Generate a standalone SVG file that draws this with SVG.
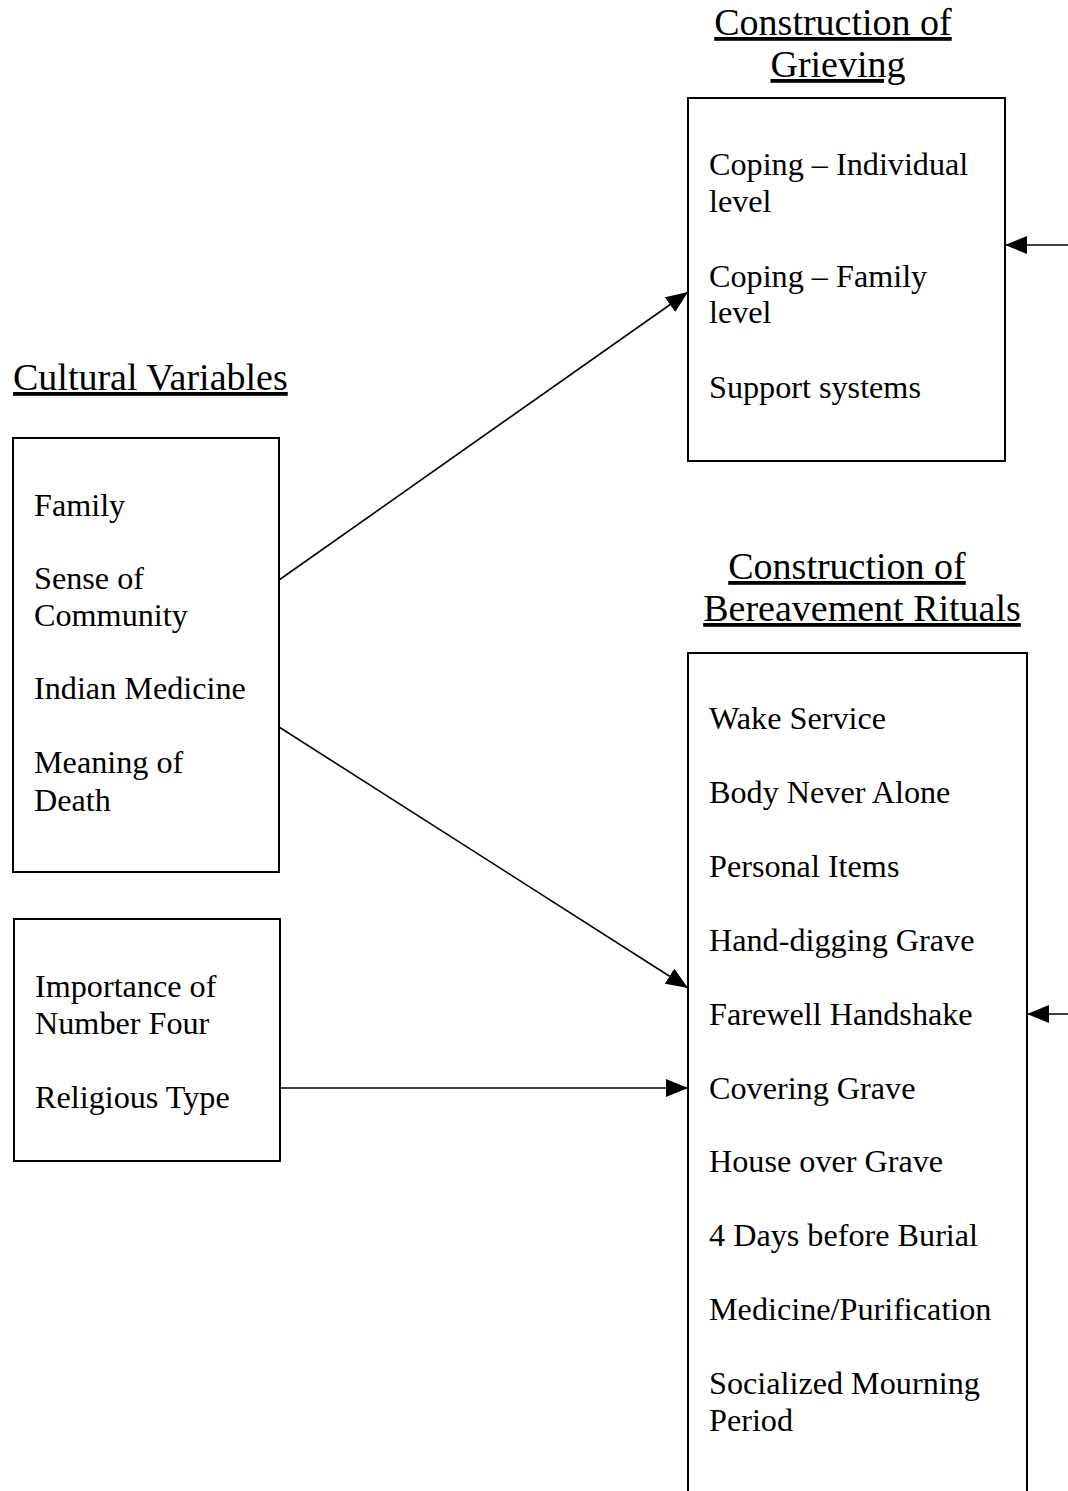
<svg xmlns="http://www.w3.org/2000/svg" width="1068" height="1491" viewBox="0 0 1068 1491">
<style>
text{font-family:"Liberation Serif","Times New Roman",serif;fill:#000}
.t{font-size:38px;text-decoration:underline}
.b{font-size:32.2px}
.box{fill:none;stroke:#000;stroke-width:2}
.c{stroke:#000;stroke-width:1.6;fill:none;marker-end:url(#ah)}
</style>
<defs>
<marker id="ah" viewBox="0 0 22 18" refX="22" refY="9" markerWidth="22" markerHeight="18" markerUnits="userSpaceOnUse" orient="auto">
<path d="M0,0 L22,9 L0,18 Z" fill="#000"/>
</marker>
</defs>
<rect width="1068" height="1491" fill="#fff"/>
<g id="title-grieving">
<text class="t" x="833" y="35" text-anchor="middle">Construction of</text>
<text class="t" x="838" y="77" text-anchor="middle">Grieving</text>
</g>
<g id="title-cultural">
<text class="t" x="13" y="390">Cultural Variables</text>
</g>
<g id="title-bereavement">
<text class="t" x="847" y="579" text-anchor="middle">Construction of</text>
<text class="t" x="862" y="621" text-anchor="middle">Bereavement Rituals</text>
</g>
<g id="grieving">
<rect class="box" x="688" y="98" width="317" height="363"/>
<text class="b" x="709" y="175">Coping – Individual</text>
<text class="b" x="709" y="212">level</text>
<text class="b" x="709" y="287">Coping – Family</text>
<text class="b" x="709" y="323">level</text>
<text class="b" x="709" y="398">Support systems</text>
</g>
<g id="cultural1">
<rect class="box" x="13" y="438" width="266" height="434"/>
<text class="b" x="34" y="516">Family</text>
<text class="b" x="34" y="589">Sense of</text>
<text class="b" x="34" y="626">Community</text>
<text class="b" x="34" y="699">Indian Medicine</text>
<text class="b" x="34" y="773">Meaning of</text>
<text class="b" x="34" y="811">Death</text>
</g>
<g id="cultural2">
<rect class="box" x="14" y="919" width="266" height="242"/>
<text class="b" x="35" y="997">Importance of</text>
<text class="b" x="35" y="1034">Number Four</text>
<text class="b" x="35" y="1108">Religious Type</text>
</g>
<g id="bereavement">
<path class="box" d="M688,1495 V653 H1027 V1495"/>
<text class="b" x="709" y="729">Wake Service</text>
<text class="b" x="709" y="803">Body Never Alone</text>
<text class="b" x="709" y="877">Personal Items</text>
<text class="b" x="709" y="951">Hand-digging Grave</text>
<text class="b" x="709" y="1025">Farewell Handshake</text>
<text class="b" x="709" y="1099">Covering Grave</text>
<text class="b" x="709" y="1172">House over Grave</text>
<text class="b" x="709" y="1246">4 Days before Burial</text>
<text class="b" x="709" y="1320">Medicine/Purification</text>
<text class="b" x="709" y="1394">Socialized Mourning</text>
<text class="b" x="709" y="1431">Period</text>
</g>
<g id="connectors">
<line class="c" x1="279" y1="580" x2="688" y2="292"/>
<line class="c" x1="279" y1="727" x2="688" y2="988"/>
<line class="c" x1="280" y1="1088" x2="688" y2="1088"/>
<line class="c" x1="1068" y1="245" x2="1005" y2="245"/>
<line class="c" x1="1068" y1="1014" x2="1027" y2="1014"/>
</g>
</svg>
